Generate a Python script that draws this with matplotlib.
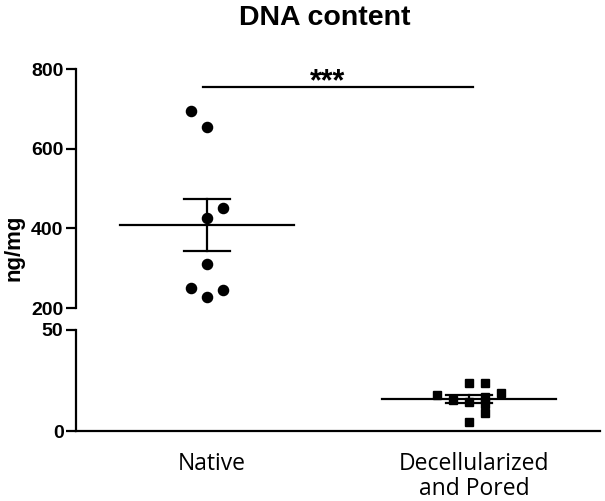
import matplotlib
matplotlib.use("Agg")
import matplotlib.pyplot as plt
import matplotlib.transforms as mtransforms
import numpy as np

categories = ["Native", "Decellularized\nand Pored"]
native_values = [695, 655, 450, 427, 310, 251, 244, 227]
decell_values = [17.8, 23.9, 23.9, 19.0, 15.5, 14.5, 17.0, 13.5, 8.8, 4.3]
top_ticks = [200, 400, 600, 800]
bottom_ticks = [0, 50]
sig_label = "***"
sig_value = 755

# horizontal scatter slots (GraphPad-style column scatter)
native_slots = [-1, 0, 1, 0, 0, -1, 1, 0]
decell_slots = [-2, 0, 1, 2, -1, 0, 1, 1, 1, 0]
slot_w = 0.061

plt.rcParams['font.family'] = ['Liberation Sans', 'DejaVu Sans']

fig = plt.figure(figsize=(6.05, 5.01), dpi=100)
left = 76 / 605
width = 524 / 605
ax_top = fig.add_axes([left, 1 - 308 / 501, width, (308 - 69) / 501])
ax_bot = fig.add_axes([left, 1 - 431 / 501, width, (431 - 330) / 501])

lw = 1.6
for ax in (ax_top, ax_bot):
    ax.set_xlim(-0.5, 1.5)
    ax.spines['top'].set_visible(False)
    ax.spines['right'].set_visible(False)
    ax.spines['left'].set_linewidth(lw)
    ax.spines['bottom'].set_linewidth(lw)
    ax.tick_params(axis='y', length=7, width=lw, pad=2)

ax_top.spines['bottom'].set_visible(False)
ax_top.set_xticks([])
ax_top.set_ylim(200, 800)
ax_top.set_yticks(top_ticks)
ax_top.set_yticklabels([str(t) for t in top_ticks], fontweight='bold', fontsize=14)

ax_bot.set_ylim(0, 50)
ax_bot.set_yticks(bottom_ticks)
ax_bot.set_yticklabels([str(t) for t in bottom_ticks], fontweight='bold', fontsize=14)
ax_bot.set_xticks([0, 1])
ax_bot.set_xticklabels(categories, fontsize=16.5, family=['Open Sans', 'DejaVu Sans'],
                       linespacing=1.06)
ax_bot.tick_params(axis='x', length=0, pad=15)
shift = mtransforms.ScaledTranslation(5 / 100, 0, fig.dpi_scale_trans)
for lab in ax_bot.get_xticklabels():
    lab.set_transform(lab.get_transform() + shift)


def draw_group(ax, xc, vals, slots, marker, ms):
    vals = np.asarray(vals, dtype=float)
    xs = xc + np.asarray(slots) * slot_w
    mean = vals.mean()
    sem = vals.std(ddof=1) / np.sqrt(len(vals))
    ax.plot([xc - 0.333, xc + 0.333], [mean, mean], color='black', lw=lw, zorder=2,
            clip_on=False)
    ax.plot([xc, xc], [mean - sem, mean + sem], color='black', lw=lw, zorder=2, clip_on=False)
    for yv in (mean - sem, mean + sem):
        ax.plot([xc - 0.086, xc + 0.086], [yv, yv], color='black', lw=lw, zorder=2,
                clip_on=False)
    ax.plot(xs, vals, linestyle='none', marker=marker, ms=ms, color='black',
            zorder=3, clip_on=False)


draw_group(ax_top, 0, native_values, native_slots, 'o', 7.3)
draw_group(ax_bot, 1, decell_values, decell_slots, 's', 6.3)

# significance bar
ax_top.plot([-0.015, 1.015], [sig_value, sig_value], color='black', lw=lw, clip_on=False)
fig.text(328 / 605, 1 - 90 / 501, sig_label, ha='center', va='baseline', fontsize=22,
         fontweight='bold')

fig.text(325 / 605, 1 - 25 / 501, "DNA content", ha='center', va='baseline',
         fontsize=20.5, fontweight='bold')
fig.text(14 / 605, 1 - 248 / 501, "ng/mg", ha='center', va='center', rotation=90,
         fontsize=16, fontweight='bold')

fig.savefig("out.png", dpi=100)
